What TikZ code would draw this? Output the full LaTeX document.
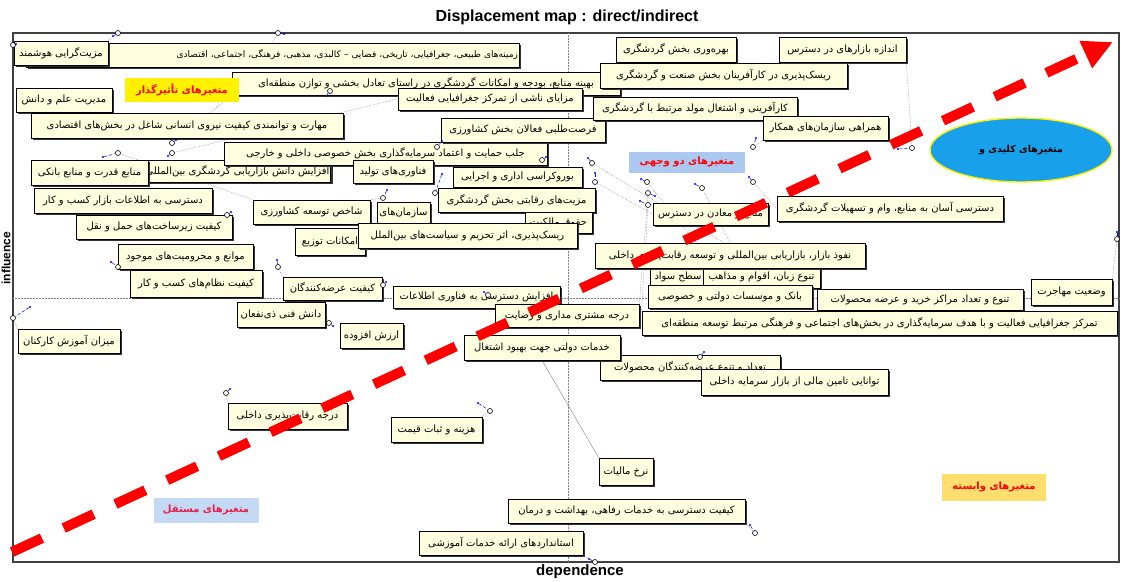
\documentclass[tikz,border=0pt]{standalone}
\usepackage{fontspec}
\newfontfamily\fa[Script=Arabic]{DejaVu Sans}
\newfontfamily\lat{Liberation Sans}
\TeXXeTstate=1
\usetikzlibrary{arrows.meta,shapes.geometric,shadows}
\pgfdeclarelayer{bg}
\pgfsetlayers{bg,main}
\definecolor{cream}{RGB}{255,255,224}
\definecolor{lblue}{RGB}{170,200,240}
\definecolor{gold}{RGB}{255,222,110}
\definecolor{keyblue}{RGB}{25,160,235}

\begin{document}
\begin{tikzpicture}[x=1pt,y=-1pt,
	varbox/.style={draw,line width=0.8pt,fill=cream,inner sep=1pt,font={\fa\fontsize{10}{12}\selectfont},
		drop shadow={shadow xshift=2.2pt,shadow yshift=-2.2pt,fill=black!80,opacity=1}},
	catlabel/.style={inner sep=3pt,font={\fa\bfseries\fontsize{10}{12}\selectfont},text=red},
	pt/.style={circle,draw,fill=white,inner sep=0pt,minimum size=5pt,line width=0.6pt},
	dot/.style={circle,fill=blue,inner sep=0pt,minimum size=2.4pt},
	tie/.style={blue,densely dashed,line width=0.5pt},
	lead/.style={gray,densely dotted,line width=0.5pt}]
	\useasboundingbox (0,0) rectangle (1124,581);
	% frame and axes
	\draw[black!75,line width=1.2pt] (13,33) rectangle (1119,562);
	\draw[gray,densely dotted,line width=0.5pt] (13,298)--(1119,298);
	\draw[gray,densely dotted,line width=0.5pt] (568,33)--(568,562);
	\node[font={\lat\bfseries\fontsize{16}{18}\selectfont}] (title) at (567,17) {Displacement map : direct/indirect};
	\node[font={\lat\bfseries\fontsize{15}{17}\selectfont}] (dep) at (580,572) {dependence};
	\node[rotate=90,font={\lat\bfseries\fontsize{12}{14}\selectfont}] (infl) at (6,258) {influence};
	% variables, upper left
	\node[varbox,text width=491,align=right,minimum height=24,font={\fa\fontsize{9}{11}\selectfont}] (b2) at (272.5,55) {\beginR زمینه‌های طبیعی، جغرافیایی، تاریخی، فضایی – کالبدی، مذهبی، فرهنگی، اجتماعی، اقتصادی\endR};
	\node[varbox,minimum width=94,minimum height=24] (b1) at (61,53) {\beginR مزیت‌گرایی هوشمند\endR};
	\node[varbox,minimum width=96,minimum height=24] (b6) at (64,100) {\beginR مدیریت علم و دانش\endR};
	\node[varbox,minimum width=388,minimum height=23] (b3) at (426,83.5) {\beginR بهینه منابع، بودجه و امکانات گردشگری در راستای تعادل بخشی و توازن منطقه‌ای\endR};
	\node[varbox,minimum width=312,minimum height=25] (b5) at (187,125.5) {\beginR مهارت و توانمندی کیفیت نیروی انسانی شاغل در بخش‌های اقتصادی\endR};
	\node[varbox,minimum width=184,minimum height=22] (b4) at (490,99) {\beginR مزایای ناشی از تمرکز جغرافیایی فعالیت\endR};
	\node[varbox,minimum width=175,minimum height=22] (b8) at (237.5,171) {\beginR افزایش دانش بازاریابی گردشگری بین‌المللی\endR};
	\node[varbox,minimum width=117,minimum height=25] (b9) at (89.5,172.5) {\beginR منابع قدرت و منابع بانکی\endR};
	\node[varbox,minimum width=323,minimum height=23] (b7) at (385.5,153.5) {\beginR جلب حمایت و اعتماد سرمایه‌گذاری بخش خصوصی داخلی و خارجی\endR};
	\node[varbox,minimum width=80,minimum height=23] (b10) at (393,171.5) {\beginR فناوری‌های تولید\endR};
	\node[varbox,minimum width=164,minimum height=24] (b13) at (523,130) {\beginR فرصت‌طلبی فعالان بخش کشاورزی\endR};
	\node[varbox,minimum width=129,minimum height=20] (b11) at (517.5,177) {\beginR بوروکراسی اداری و اجرایی\endR};
	\node[varbox,minimum width=157,minimum height=24] (b12) at (516.5,200) {\beginR مزیت‌های رقابتی بخش گردشگری\endR};
	\node[varbox,minimum width=117,minimum height=24] (b45) at (311.5,212) {\beginR شاخص توسعه کشاورزی\endR};
	\node[varbox,minimum width=53,minimum height=22] (b46) at (403.5,213) {\beginR سازمان‌های\endR};
	\node[varbox,minimum width=67,minimum height=21] (hq) at (558.5,222.5) {\beginR حقوق مالکیت\endR};
	\node[varbox,minimum width=70,minimum height=27] (b47) at (330,241.5) {\beginR امکانات توزیع\endR};
	\node[varbox,minimum width=219,minimum height=25] (b48) at (467.5,235.5) {\beginR ریسک‌پذیری، اثر تحریم و سیاست‌های بین‌الملل\endR};
	% variables, upper right
	\node[varbox,minimum width=120,minimum height=25] (b14) at (676,49.5) {\beginR بهره‌وری بخش گردشگری\endR};
	\node[varbox,minimum width=247,minimum height=25] (b15) at (723.5,75.5) {\beginR ریسک‌پذیری در کارآفرینان بخش صنعت و گردشگری\endR};
	\node[varbox,minimum width=204,minimum height=23] (b16) at (695,108.5) {\beginR کارآفرینی و اشتغال مولد مرتبط با گردشگری\endR};
	\node[varbox,minimum width=127,minimum height=25] (b17) at (842.5,49.5) {\beginR اندازه بازارهای در دسترس\endR};
	\node[varbox,minimum width=125,minimum height=24] (b18) at (825.5,128) {\beginR همراهی سازمان‌های همکار\endR};
	\node[varbox,minimum width=226,minimum height=25] (b19) at (890,208.5) {\beginR دسترسی آسان به منابع، وام و تسهیلات گردشگری\endR};
	\node[varbox,minimum width=115,minimum height=22] (b20) at (710.5,214) {\beginR منابع و معادن در دسترس\endR};
	\node[varbox,minimum width=56,minimum height=22] (sv) at (678,277) {\beginR سطح سواد\endR};
	\node[varbox,minimum width=117,minimum height=22] (b22) at (761.5,277) {\beginR تنوع زبان، اقوام و مذاهب\endR};
	\node[varbox,minimum width=270,minimum height=25] (b21) at (730,255.5) {\beginR نفوذ بازار، بازاریابی بین‌المللی و توسعه رقابت‌پذیری داخلی\endR};
	% variables, lower right
	\node[varbox,minimum width=164,minimum height=23] (b23) at (730,296.5) {\beginR بانک و موسسات دولتی و خصوصی\endR};
	\node[varbox,minimum width=206,minimum height=21] (b24) at (920,299.5) {\beginR تنوع و تعداد مراکز خرید و عرضه محصولات\endR};
	\node[varbox,minimum width=81,minimum height=26] (b25) at (1071.5,292) {\beginR وضعیت مهاجرت\endR};
	\node[varbox,minimum width=475,minimum height=24] (b26) at (879.5,323) {\beginR تمرکز جغرافیایی فعالیت و با هدف سرمایه‌گذاری در بخش‌های اجتماعی و فرهنگی مرتبط توسعه منطقه‌ای\endR};
	\node[varbox,minimum width=167,minimum height=22] (b28) at (476.5,297) {\beginR افزایش دسترسی به فناوری اطلاعات\endR};
	\node[varbox,minimum width=144,minimum height=23] (b27) at (567,315.5) {\beginR درجه مشتری مداری و رضایت\endR};
	\node[varbox,minimum width=180,minimum height=25] (b30) at (690,367.5) {\beginR تعداد و تنوع عرضه‌کنندگان محصولات\endR};
	\node[varbox,minimum width=156,minimum height=25] (b29) at (542,347.5) {\beginR خدمات دولتی جهت بهبود اشتغال\endR};
	\node[varbox,minimum width=187,minimum height=26] (b31) at (794.5,382) {\beginR توانایی تامین مالی از بازار سرمایه داخلی\endR};
	\node[varbox,minimum width=54,minimum height=27] (b32) at (626,471.5) {\beginR نرخ مالیات\endR};
	\node[varbox,minimum width=237,minimum height=24] (b33) at (626.5,511) {\beginR کیفیت دسترسی به خدمات رفاهی، بهداشت و درمان\endR};
	\node[varbox,minimum width=164,minimum height=24] (b34) at (501,543) {\beginR استانداردهای ارائه خدمات آموزشی\endR};
	% variables, lower left
	\node[varbox,minimum width=91,minimum height=25] (b35) at (436.5,429.5) {\beginR هزینه و ثبات قیمت\endR};
	\node[varbox,minimum width=119,minimum height=26] (b36) at (287.5,416) {\beginR درجه رقابت‌پذیری داخلی\endR};
	\node[varbox,minimum width=102,minimum height=24] (b37) at (69,341) {\beginR میزان آموزش کارکنان\endR};
	\node[varbox,minimum width=178,minimum height=25] (b38) at (123,200.5) {\beginR دسترسی به اطلاعات بازار کسب و کار\endR};
	\node[varbox,minimum width=156,minimum height=24] (b39) at (154,227) {\beginR کیفیت زیرساخت‌های حمل و نقل\endR};
	\node[varbox,minimum width=135,minimum height=25] (b40) at (185.5,256.5) {\beginR موانع و محرومیت‌های موجود\endR};
	\node[varbox,minimum width=132,minimum height=27] (b41) at (196,283.5) {\beginR کیفیت نظام‌های کسب و کار\endR};
	\node[varbox,minimum width=99,minimum height=23] (b42) at (332.5,288.5) {\beginR کیفیت عرضه‌کنندگان\endR};
	\node[varbox,minimum width=88,minimum height=25] (b43) at (281,314.5) {\beginR دانش فنی ذی‌نفعان\endR};
	\node[varbox,minimum width=63,minimum height=25] (b44) at (371.5,335.5) {\beginR ارزش افزوده\endR};
	% quadrant labels
	\node[catlabel,fill=yellow,minimum width=114,minimum height=24] (qa) at (182,90) {\beginR متغیرهای تأثیرگذار\endR};
	\node[catlabel,fill=lblue,minimum width=116,minimum height=21] (qb) at (687,162) {\beginR متغیرهای دو وجهی\endR};
	\node[catlabel,fill=lblue!70,text={rgb,255:red,232;green,32;blue,74},minimum width=105,minimum height=25] (qc) at (206,510) {\beginR متغیرهای مستقل\endR};
	\node[catlabel,fill=gold,minimum width=104,minimum height=27] (qd) at (994,487) {\beginR متغیرهای وابسته\endR};
	\node[ellipse,draw=yellow,line width=1.4pt,fill=keyblue,minimum width=182,minimum height=64,font={\fa\bfseries\fontsize{9.5}{11}\selectfont}] (key) at (1021,150) {\beginR متغیرهای کلیدی و\endR};
	% displacement markers
	\foreach \n/\x/\y/\u/\v in {1/118/33/113/36,2/278/33/284/34,3/13/45/16/44,4/330/91/326/96,5/118/153/103/157,
		6/172/143/176/140,7/172/153/168/156,8/437/147/442/141,9/542/160/546/157,10/595/182/595/173,
		11/435/193/442/174,12/383/198/387/190,13/753/147/756/138,14/753/182/749/177,15/647/182/641/179,
		16/648/193/655/196,17/648/205/640/201,18/702/188/695/184,19/592/163/588/158,21/912/148/898/149,
		22/227/215/231/212,23/118/267/111/262,24/278/267/277/260,25/13/318/30/307,26/383/285/386/282,
		27/329/323/333/326,28/488/295/484/292,29/1117/239/1117/232,30/226/393/230/389,31/490/411/478/403,
		32/700/357/704/352,33/755/533/750/525,34/595/562/589/559}{
		\node[dot] (q\n) at (\u,\v) {};
		\node[pt] (m\n) at (\x,\y) {};
		\draw[tie] (q\n)--(m\n);
	}
	% leader lines
	\begin{pgfonlayer}{bg}
		\draw[lead] (b17.south east)--(m21);
		\draw[lead] (b25.north east)--(m29);
		\draw[gray] (b29.south)--(b32.north west);
		\draw[lead] (b33.south east)--(m33);
		\draw[lead] (b34.south east)--(m34);
		\draw[lead] (b35.north east)--(m31);
		\draw[lead] (b36.north west)--(m30);
		\draw[lead] (b37.north west)--(m25);
		\draw[lead] (b40.south west)--(m23);
		\draw[lead] (b42.north west)--(m24);
		\draw[lead] (b43.east)--(m27);
		\draw[lead] (b18.south west)--(m13);
		\draw[lead] (b1.north east)--(m1);
		\draw[lead] (b2.north)--(m2);
		\draw[lead] (m6)--(b3.south west);
		\draw[lead] (m7)--(b4.west);
		\draw[lead] (m5)--(b45.north west);
		\draw[lead] (m10)--(b20.west);
		\draw[lead] (m15)--(b23.north);
		\draw[lead] (m18)--(b21.north);
		\draw[lead] (m14)--(b19.west);
		\draw[lead] (m17)--(b26.north west);
		\draw[lead] (m19)--(b22.north);
		\draw[lead] (m16)--(b27.north east);
		\draw[lead] (m12)--(b45.north east);
	\end{pgfonlayer}
	% direction arrow
	\coordinate (a0) at (12,552);
	\coordinate (a1) at (1113,42);
	\draw[red,line width=10pt,dash pattern=on 33pt off 24pt,-{Triangle[length=30pt,width=28pt]}] (a0)--(a1);
\end{tikzpicture}
\end{document}
